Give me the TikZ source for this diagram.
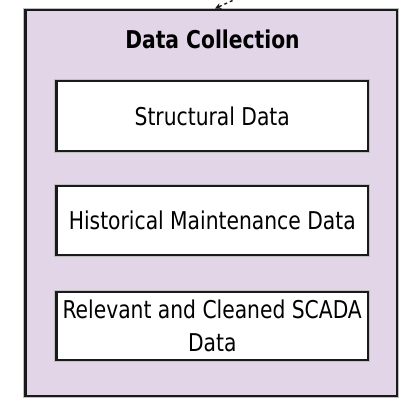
\documentclass[tikz,border=0pt]{standalone}
\usepackage{fontspec}
\setmainfont{DejaVu Sans Condensed}[FakeStretch=0.92]
\usetikzlibrary{arrows.meta}
\definecolor{groupfill}{HTML}{E1D5E7}
\definecolor{edge}{HTML}{1A1A1A}
\begin{document}
\begin{tikzpicture}[x=1pt,y=-1pt,
  halo/.style={preaction={draw=gray!50,line width=4.4pt}},
  group/.style={halo,draw=edge,line width=2.4pt,fill=groupfill,inner sep=0pt},
  databox/.style={halo,draw=edge,line width=2.4pt,fill=white,inner sep=2pt,
    minimum width=311.5pt,minimum height=70pt,align=center,
    font=\fontsize{24.5}{33}\selectfont},
  heading/.style={font=\bfseries\fontsize{24.5}{30}\selectfont}]
  \useasboundingbox (0,0) rectangle (401,400);
  % enclosing group
  \node[group,minimum width=371.5pt,minimum height=386pt] (dc) at (211.25,202.75) {};
  \node[heading,anchor=base] (title) at (212.5,48) {Data Collection};
  % data sources
  \node[databox] (struct) at (212.25,116) {Structural Data};
  \node[databox,minimum height=69pt] (hist) at (212.25,220.5) {Historical Maintenance Data};
  \node[databox,minimum height=68pt] (scada) at (212.25,326) {Relevant and Cleaned SCADA\\Data};
  % incoming link from above
  \coordinate (src) at (238,-2);
  \draw[edge,line width=1.4pt,dashed,-{Stealth[length=6pt,width=6pt]}] (src) -- (dc.north -| 215,0);
\end{tikzpicture}
\end{document}
